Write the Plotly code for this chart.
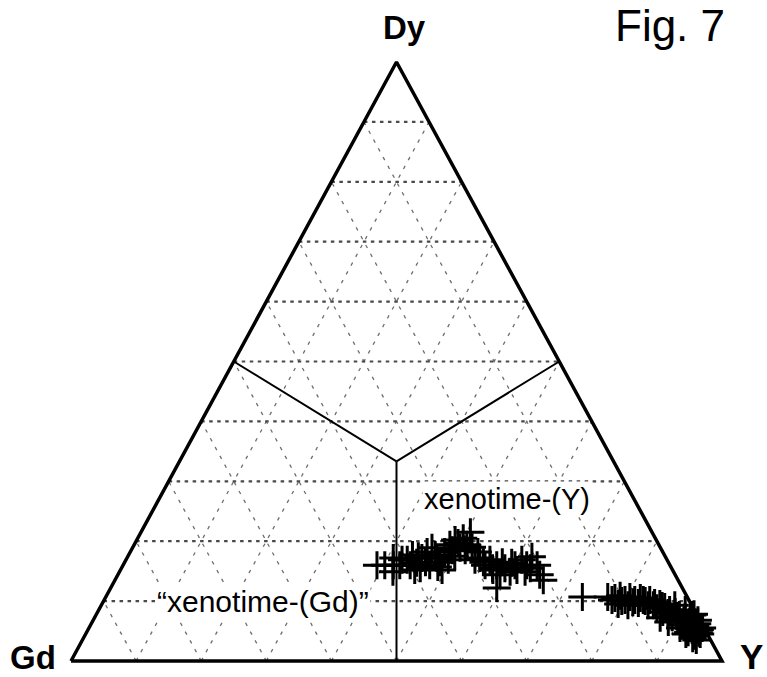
import plotly.graph_objects as go

# ---- data (percent) ----
dy_pct = [16.0, 17.2, 16.0, 14.9, 16.9, 17.7, 16.4, 17.2, 18.2, 16.0, 18.9, 17.2, 15.2, 18.2, 19.4, 20.2,
          18.9, 20.5, 19.4, 21.5, 16.9, 17.2, 16.0, 16.9, 15.2, 16.0, 14.4, 12.2, 15.5, 16.4, 15.2, 16.9,
          16.0, 17.4, 16.0, 14.4, 13.5, 16.0, 15.5, 16.5, 17.5, 18.2, 14.9, 14.9, 16.0, 15.2,
          16.9, 16.0, 17.5, 16.5, 17.7, 16.9, 18.5, 19.7, 18.5, 19.0, 16.5, 15.5, 16.5, 16.0, 15.5, 15.7,
          10.7, 10.7, 10.5, 10.9, 10.2, 10.7, 10.2, 10.5, 10.0, 10.2, 9.7, 9.5, 9.0, 8.5, 8.2, 7.7,
          7.2, 6.5, 5.8, 5.2, 4.5, 3.8, 4.8, 6.0, 6.8, 7.3, 7.2, 6.5, 5.5, 4.8, 5.5, 9.3,
          8.5, 7.7, 6.8, 9.7, 9.3, 8.8, 8.2, 5.2, 3.5, 5.5, 9.3, 9.5, 7.8,
          10.2, 10.0, 9.8, 10.2, 9.3, 9.2, 8.0, 7.5, 6.7, 6.0, 5.2, 6.2, 4.2, 4.5, 7.2, 4.7]
y_pct = [39.0, 40.9, 41.5, 42.0, 43.2, 43.6, 44.9, 45.3, 45.6, 47.1, 46.0, 47.6, 49.4, 48.3, 48.5, 48.9,
         50.3, 50.0, 51.1, 50.6, 53.6, 54.2, 55.6, 55.9, 57.2, 57.4, 58.7, 59.3, 58.9, 59.5, 60.9, 60.8,
         62.0, 62.1, 63.6, 64.8, 65.8, 42.5, 45.9, 48.4, 50.2, 53.4, 60.0, 62.3, 40.2, 45.2,
         42.4, 44.1, 44.6, 46.2, 47.1, 49.5, 49.3, 49.6, 51.3, 52.1, 55.1, 57.0, 58.0, 60.2, 62.8, 48.5,
         73.2, 77.1, 78.3, 78.9, 80.0, 80.5, 81.5, 82.2, 83.2, 83.8, 84.8, 85.7, 86.7, 87.7, 88.7, 89.6,
         90.7, 91.8, 93.0, 93.7, 94.4, 93.6, 92.4, 91.0, 89.8, 88.7, 86.9, 88.5, 92.3, 93.5, 94.2, 88.1,
         90.1, 91.6, 92.9, 82.3, 84.0, 85.6, 86.8, 94.0, 94.3, 90.8, 80.9, 79.3, 91.8,
         78.0, 79.6, 81.4, 82.8, 84.8, 86.2, 87.7, 89.3, 90.8, 91.8, 92.8, 93.1, 93.6, 92.2, 91.5, 94.1]
gd_pct = [45.0, 41.9, 42.5, 43.1, 39.9, 38.7, 38.7, 37.5, 36.2, 36.9, 35.1, 35.2, 35.4, 33.5, 32.1, 30.9,
          30.8, 29.5, 29.5, 27.9, 29.5, 28.6, 28.4, 27.2, 27.6, 26.6, 26.9, 28.5, 25.6, 24.1, 23.9, 22.3,
          22.0, 20.5, 20.4, 20.8, 20.7, 41.5, 38.6, 35.1, 32.3, 28.4, 25.1, 22.8, 43.8, 39.6,
          40.7, 39.9, 37.9, 37.3, 35.2, 33.6, 32.2, 30.7, 30.2, 28.9, 28.4, 27.5, 25.5, 23.8, 21.7, 35.8,
          16.1, 12.2, 11.2, 10.2, 9.8, 8.8, 8.3, 7.3, 6.8, 6.0, 5.5, 4.8, 4.3, 3.8, 3.1, 2.7,
          2.1, 1.7, 1.2, 1.1, 1.1, 2.6, 2.8, 3.0, 3.4, 4.0, 5.9, 5.0, 2.2, 1.7, 0.3, 2.6,
          1.4, 0.7, 0.3, 8.0, 6.7, 5.6, 5.0, 0.8, 2.2, 3.7, 9.8, 11.2, 0.4,
          11.8, 10.4, 8.8, 7.0, 5.9, 4.6, 4.3, 3.2, 2.5, 2.2, 2.0, 0.7, 2.2, 3.3, 1.3, 1.2]

grid_levels = [0.1, 0.2, 0.3, 0.4, 0.5, 0.6, 0.7, 0.8, 0.9]
apex_labels = ["Dy", "Gd", "Y"]
field_labels = ["xenotime-(Y)", "\u201cxenotime-(Gd)\u201d"]
figure_label = "Fig. 7"


def to_xy(gd, dy, y):
    s = gd + dy + y
    return (y + dy / 2.0) / s, dy / s


fig = go.Figure()

GRID_H = dict(color="#4a4a4a", width=2.2, dash="3.5px,4.5px")
GRID_S = dict(color="#6e6e6e", width=1.3, dash="3.5px,6.5px")


def add_line(p0, p1, line):
    x0, y0 = to_xy(*p0)
    x1, y1 = to_xy(*p1)
    fig.add_trace(go.Scatter(x=[x0, x1], y=[y0, y1], mode="lines", line=line,
                             hoverinfo="skip", showlegend=False))


for t in grid_levels:
    # constant Y
    add_line((1 - t, 0, t), (0, 1 - t, t), GRID_S)
    # constant Gd
    add_line((t, 0, 1 - t), (t, 1 - t, 0), GRID_S)
for t in grid_levels:
    # constant Dy
    add_line((1 - t, t, 0), (0, t, 1 - t), GRID_H)

# field boundaries from the centroid to the edge midpoints
centroid = (1 / 3, 1 / 3, 1 / 3)
for mid in [(0.5, 0.5, 0), (0, 0.5, 0.5), (0.5, 0, 0.5)]:
    add_line(centroid, mid, dict(color="black", width=2))

# triangle frame
corners = [(1, 0, 0), (0, 1, 0), (0, 0, 1), (1, 0, 0)]
fx, fy = zip(*[to_xy(*c) for c in corners])
fig.add_trace(go.Scatter(x=list(fx), y=list(fy), mode="lines",
                         line=dict(color="black", width=3.5), hoverinfo="skip", showlegend=False))

# data points
px, py = zip(*[to_xy(g, d, y) for g, d, y in zip(gd_pct, dy_pct, y_pct)])
fig.add_trace(go.Scatter(x=list(px), y=list(py), mode="markers",
                         marker=dict(symbol="cross-thin", size=20, color="black",
                                     line=dict(color="black", width=3)),
                         showlegend=False))

# apex labels
top = to_xy(0, 1, 0)
left = to_xy(1, 0, 0)
right = to_xy(0, 0, 1)
FONT = "Liberation Sans, Arial, sans-serif"
fig.add_annotation(x=top[0], y=top[1], text="<b>%s</b>" % apex_labels[0], showarrow=False,
                   xanchor="center", yanchor="bottom", xshift=8, yshift=14,
                   font=dict(family=FONT, size=33, color="black"))
fig.add_annotation(x=left[0], y=left[1], text="<b>%s</b>" % apex_labels[1], showarrow=False,
                   xanchor="right", yanchor="middle", xshift=-13, yshift=4,
                   font=dict(family=FONT, size=33, color="black"))
fig.add_annotation(x=right[0], y=right[1], text="<b>%s</b>" % apex_labels[2], showarrow=False,
                   xanchor="left", yanchor="middle", xshift=16, yshift=5,
                   font=dict(family=FONT, size=35, color="black"))

# field labels
ly = to_xy(0.195, 0.27, 0.535)
fig.add_annotation(x=ly[0], y=ly[1], text=field_labels[0], showarrow=False,
                   xanchor="center", yanchor="middle", bgcolor="white", borderpad=1,
                   font=dict(family=FONT, size=29, color="black"))
lg = to_xy(0.655, 0.1, 0.245)
fig.add_annotation(x=lg[0], y=lg[1], text=field_labels[1], showarrow=False,
                   xanchor="center", yanchor="middle", bgcolor="white", borderpad=1,
                   font=dict(family=FONT, size=30, color="black"))

fig.add_annotation(xref="paper", yref="paper", x=0.874, y=1.0, text=figure_label,
                   showarrow=False, xanchor="center", yanchor="top", yshift=1,
                   font=dict(family=FONT, size=44, color="black"))

W, H = 767, 677
X0, X1 = 71.0, 722.0
YB, YT = 661.0, 62.0
sx = X1 - X0
sy = YB - YT
fig.update_layout(
    width=W, height=H, margin=dict(l=0, r=0, t=0, b=0),
    paper_bgcolor="white", plot_bgcolor="white", showlegend=False,
    xaxis=dict(range=[-X0 / sx, (W - X0) / sx], visible=False, fixedrange=True),
    yaxis=dict(range=[-(H - YB) / sy, YB / sy], visible=False, fixedrange=True),
)

fig.write_html("out.html")
